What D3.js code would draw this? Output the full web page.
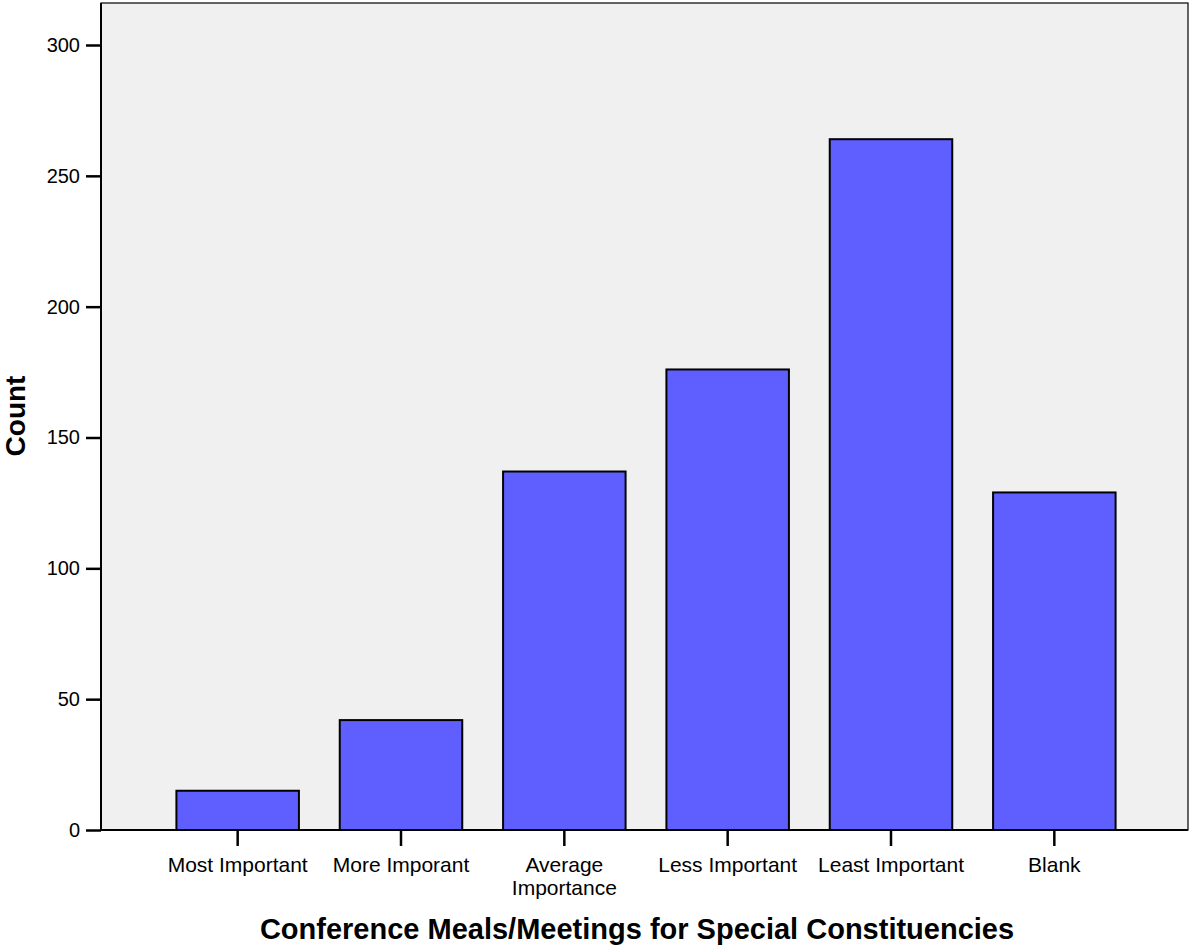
<!DOCTYPE html>
<html>
<head>
<meta charset="utf-8">
<script src="https://cdn.jsdelivr.net/npm/d3@7"></script>
<style>
  body { margin: 0; background: #fff; }
  text { font-family: Arial, "Liberation Sans", sans-serif; }
</style>
</head>
<body>
<svg id="chart"></svg>
<script>
// data
const categories = ['Most Important', 'More Imporant', 'Average Importance', 'Less Important', 'Least Important', 'Blank']
const counts = [15, 42, 137, 176, 264, 129]
const yTicks = [0, 50, 100, 150, 200, 250, 300]

const width = 1190
const height = 947
const plot = { left: 101, top: 3, right: 1188, bottom: 830 }

const svg = d3.select('svg#chart').attr('width', width).attr('height', height)

const y = d3.scaleLinear()
    .domain([0, 300])
    .range([plot.bottom, 45])

const x = d3.scaleBand()
    .domain(categories)
    .range([156, 1136])
    .paddingInner(0.25)
    .paddingOuter(0.125)

// plot background
svg.append('rect')
    .attr('x', plot.left)
    .attr('y', plot.top)
    .attr('width', plot.right - plot.left)
    .attr('height', plot.bottom - plot.top)
    .attr('fill', '#f0f0f0')
    .attr('stroke', '#000')
    .attr('stroke-width', 1.2)

// bars
svg.selectAll('rect.bar')
    .data(counts)
    .join('rect')
    .attr('class', 'bar')
    .attr('x', (d, i) => x(categories[i]))
    .attr('y', d => y(d))
    .attr('width', x.bandwidth())
    .attr('height', d => y(0) - y(d))
    .attr('fill', '#5f5fff')
    .attr('stroke', '#000')
    .attr('stroke-width', 2)

// y axis
const yAxis = svg.append('g')
    .attr('transform', 'translate(' + plot.left + ',0)')
    .call(d3.axisLeft(y).tickValues(yTicks).tickSize(15).tickPadding(6))
yAxis.attr('font-size', null).attr('font-family', null)
yAxis.select('.domain').attr('stroke-width', 2).attr('d', 'M0,' + plot.top + 'V' + plot.bottom)
yAxis.selectAll('.tick line').attr('stroke-width', 2.5)
yAxis.selectAll('.tick text').attr('font-size', 20).attr('fill', '#000')

// x axis
const xAxis = svg.append('g')
    .attr('transform', 'translate(0,' + plot.bottom + ')')
    .call(d3.axisBottom(x).tickSize(16).tickPadding(11))
xAxis.attr('font-size', null).attr('font-family', null)
xAxis.select('.domain').attr('stroke-width', 2).attr('d', 'M' + plot.left + ',0H' + plot.right)
xAxis.selectAll('.tick line').attr('stroke-width', 2.5)
xAxis.selectAll('.tick text')
    .attr('font-size', 21)
    .attr('fill', '#000')
    .each(function (d) {
        const t = d3.select(this)
        if (d === 'Average Importance') {
            t.text(null)
            t.append('tspan').attr('x', 0).attr('dy', '0.71em').text('Average')
            t.append('tspan').attr('x', 0).attr('dy', '1.08em').text('Importance')
        }
    })

// axis titles
svg.append('text')
    .attr('x', 637)
    .attr('y', 939)
    .attr('text-anchor', 'middle')
    .attr('font-size', 29)
    .attr('font-weight', 'bold')
    .text('Conference Meals/Meetings for Special Constituencies')

svg.append('text')
    .attr('transform', 'translate(25,416) rotate(-90)')
    .attr('text-anchor', 'middle')
    .attr('font-size', 28)
    .attr('font-weight', 'bold')
    .text('Count')
</script>
</body>
</html>
